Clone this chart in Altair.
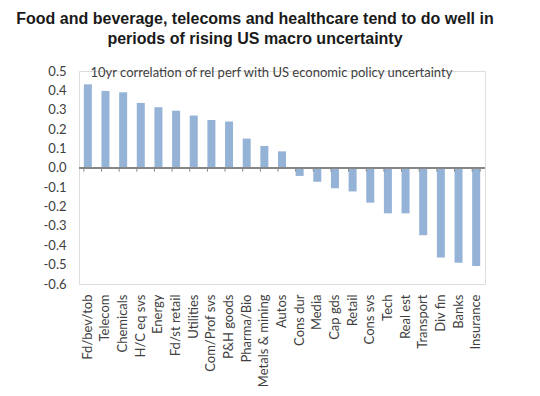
import altair as alt
import pandas as pd

categories = ["Fd/bev/tob", "Telecom", "Chemicals", "H/C eq svs", "Energy", "Fd/st retail",
              "Utilities", "Com/Prof svs", "P&H goods", "Pharma/Bio", "Metals & mining", "Autos",
              "Cons dur", "Media", "Cap gds", "Retail", "Cons svs", "Tech", "Real est",
              "Transport", "Div fin", "Banks", "Insurance"]
values = [0.431, 0.397, 0.39, 0.335, 0.313, 0.295, 0.27, 0.247, 0.239, 0.151, 0.113, 0.085,
          -0.042, -0.072, -0.105, -0.122, -0.18, -0.235, -0.235, -0.348, -0.463, -0.49, -0.507]
y_ticks = [0.5, 0.4, 0.3, 0.2, 0.1, 0.0, -0.1, -0.2, -0.3, -0.4, -0.5, -0.6]

title_lines = ["Food and beverage, telecoms and healthcare tend to do well in",
               "periods of rising US macro uncertainty"]
subtitle = "10yr correlation of rel perf with US economic policy uncertainty"

df = pd.DataFrame({"cat": categories, "val": values})
last_df = pd.DataFrame({"cat": [categories[-1]]})

xscale = alt.Scale(domain=categories, paddingInner=0.55, paddingOuter=0.275)
yscale = alt.Scale(domain=[-0.6, 0.5], nice=False, zero=False)

axis_color = "#868686"
text_color = "#404040"

x_axis = alt.Axis(labelAngle=-90, labelFont="Lato", labelFontSize=13,
                  labelColor=text_color, domain=False, ticks=False, title=None,
                  labelPadding=10, labelAlign="right", labelBaseline="middle")
y_axis = alt.Axis(values=y_ticks, labelFont="Lato", labelFontSize=13,
                  labelExpr="replace(format(datum.value, '.1f'), '\u2212', '-')",
                  labelOverlap=False, tickCount=12,
                  labelColor=text_color, domain=False, ticks=False, grid=False,
                  labelPadding=13,
                  title=subtitle, titleAngle=0, titleX=11, titleY=1,
                  titleAlign="left", titleBaseline="middle", titleFont="Lato",
                  titleFontSize=13, titleFontWeight="normal", titleColor=text_color)

bars = alt.Chart(df).mark_bar(color="#95B3D7", size=8).encode(
    x=alt.X("cat:N", scale=xscale, sort=categories, axis=x_axis),
    y=alt.Y("val:Q", scale=yscale, axis=y_axis),
)

zero_line = alt.Chart(df).mark_rule(color=axis_color, strokeWidth=1).encode(
    y=alt.YDatum(0, axis=y_axis, scale=yscale),
)

ticks = alt.Chart(df).mark_rule(color=axis_color, strokeWidth=1).encode(
    x=alt.X("cat:N", sort=categories, bandPosition=0, axis=x_axis, scale=xscale),
    y=alt.YDatum(0, axis=y_axis, scale=yscale),
    y2=alt.Y2Datum(-0.02),
)
end_tick = alt.Chart(last_df).mark_rule(color=axis_color, strokeWidth=1).encode(
    x=alt.X("cat:N", sort=categories, bandPosition=1, axis=x_axis, scale=xscale),
    y=alt.YDatum(0, axis=y_axis, scale=yscale),
    y2=alt.Y2Datum(-0.02),
)

chart = alt.layer(bars, zero_line, ticks, end_tick).properties(
    width=406, height=213,
    autosize=alt.AutoSizeParams(type="none"),
    padding={"left": 71, "top": 63, "right": 47, "bottom": 112},
    title=alt.TitleParams(text=title_lines, anchor="middle", dx=-27, fontSize=16,
                          fontWeight="bold", font="Liberation Sans", color="#1a1a1a",
                          lineHeight=20, offset=18),
).configure_view(stroke="transparent").configure(background="white")

chart.save("out.html", embed_options={"renderer": "svg", "actions": False})
